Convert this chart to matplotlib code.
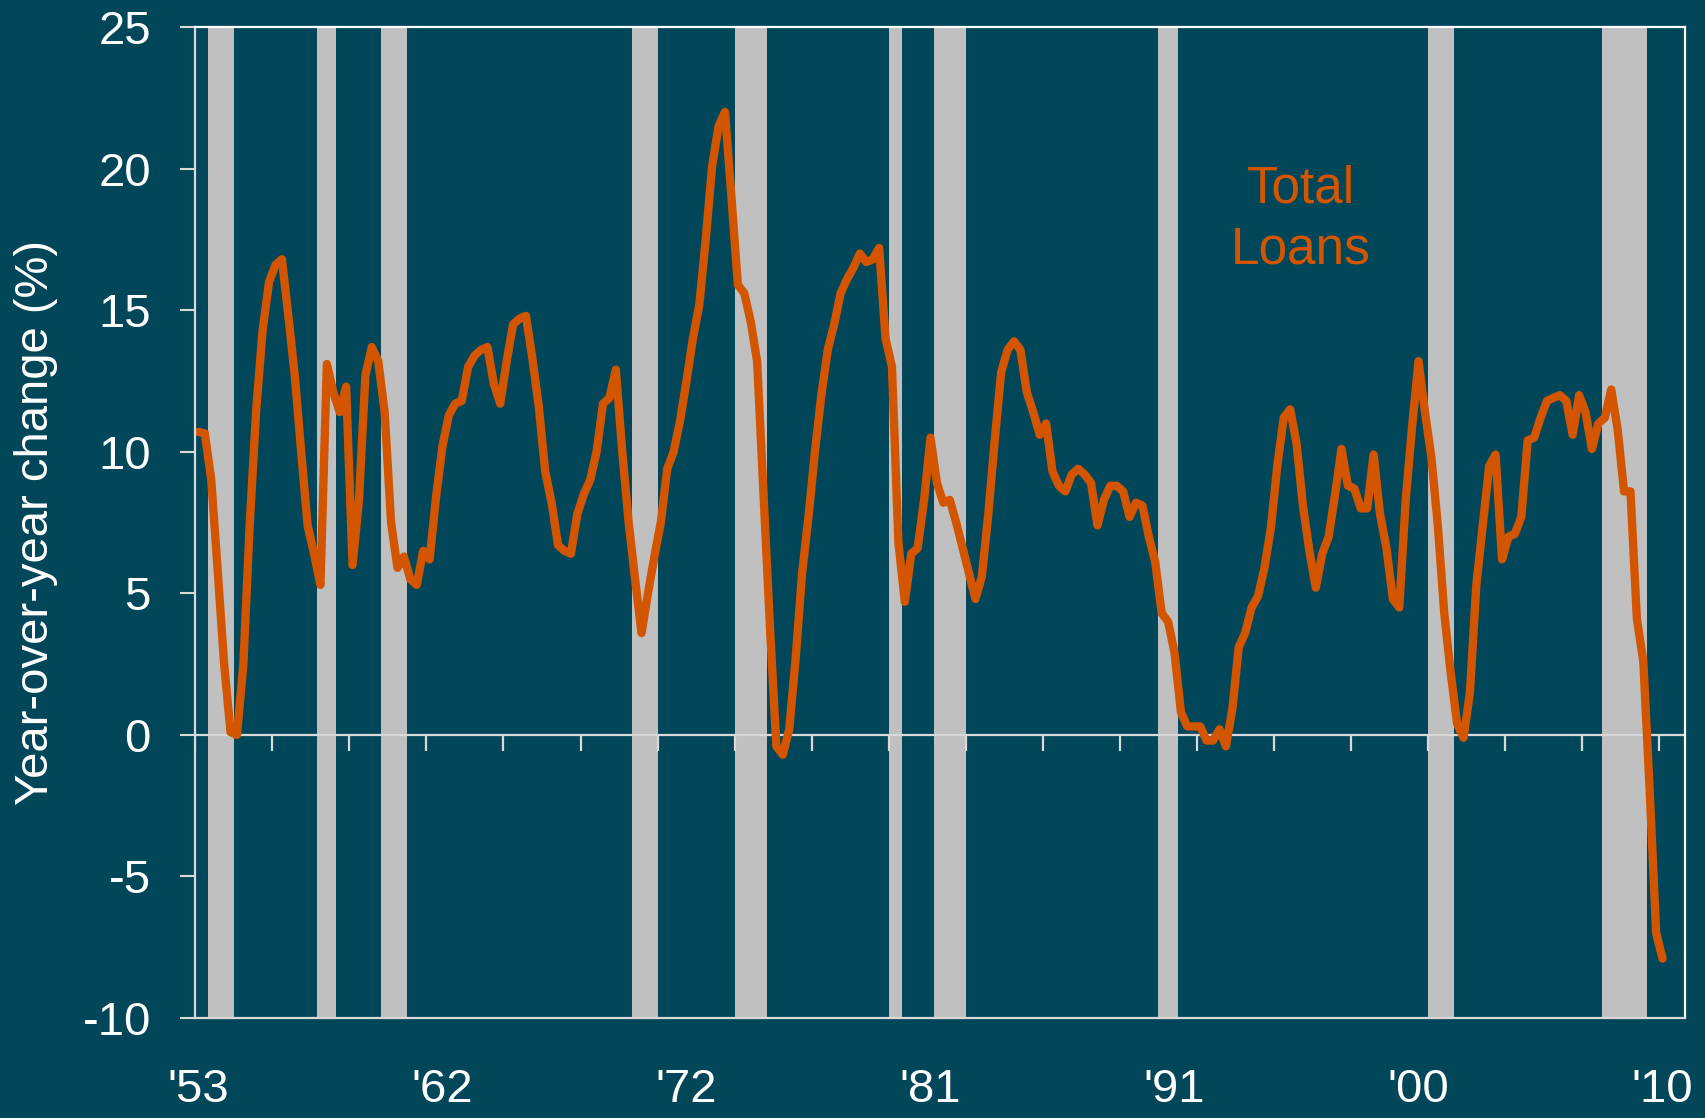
import matplotlib
matplotlib.use("Agg")
import matplotlib.pyplot as plt
import numpy as np

BG = "#02465A"
LINE_COLOR = "#D45500"
SHADE = "#C0C0C0"
AXIS_COLOR = "#D9D9D9"

START_YEAR = 1953
N_CATEGORIES = 232  # category axis runs 1953Q1 .. 2010Q4

# total loans, year-over-year % change, quarterly from 1953Q1 (one row per year)
total_loans_yoy = [
    10.7, 10.65, 9.0, 5.8,
    2.5, 0.1, 0.0, 2.5,
    7.5, 11.5, 14.3, 16.0,
    16.6, 16.8, 14.8, 12.7,
    10.0, 7.4, 6.4, 5.3,
    13.1, 12.1, 11.4, 12.3,
    6.0, 8.3, 12.7, 13.7,
    13.2, 11.4, 7.5, 5.9,
    6.3, 5.5, 5.3, 6.5,
    6.2, 8.4, 10.2, 11.3,
    11.7, 11.8, 13.0, 13.4,
    13.6, 13.7, 12.4, 11.7,
    13.2, 14.5, 14.7, 14.8,
    13.3, 11.6, 9.3, 8.2,
    6.7, 6.5, 6.4, 7.8,
    8.5, 9.0, 10.0, 11.7,
    11.9, 12.9, 10.0, 7.5,
    5.5, 3.6, 5.0, 6.3,
    7.5, 9.4, 10.0, 11.1,
    12.5, 14.0, 15.2, 17.5,
    20.1, 21.5, 22.0, 19.0,
    15.9, 15.6, 14.6, 13.2,
    8.5, 3.8, -0.4, -0.7,
    0.2, 2.7, 5.7, 7.7,
    10.0, 12.0, 13.6, 14.5,
    15.6, 16.1, 16.5, 17.0,
    16.7, 16.8, 17.2, 14.0,
    13.0, 6.8, 4.7, 6.4,
    6.6, 8.3, 10.5, 8.9,
    8.2, 8.3, 7.5, 6.6,
    5.7, 4.8, 5.6, 7.8,
    10.4, 12.8, 13.6, 13.9,
    13.6, 12.1, 11.4, 10.6,
    11.0, 9.3, 8.8, 8.6,
    9.2, 9.4, 9.2, 8.9,
    7.4, 8.3, 8.8, 8.8,
    8.6, 7.7, 8.2, 8.1,
    7.0, 6.1, 4.3, 4.0,
    2.9, 0.8, 0.3, 0.3,
    0.3, -0.2, -0.2, 0.2,
    -0.4, 0.9, 3.1, 3.6,
    4.5, 4.9, 5.9, 7.3,
    9.5, 11.2, 11.5, 10.3,
    8.1, 6.5, 5.2, 6.4,
    7.0, 8.5, 10.1, 8.8,
    8.7, 8.0, 8.0, 9.9,
    7.8, 6.6, 4.8, 4.5,
    8.3, 10.9, 13.2, 11.4,
    9.8, 7.4, 4.3, 2.2,
    0.4, -0.1, 1.5, 5.3,
    7.4, 9.5, 9.9, 6.2,
    7.0, 7.1, 7.7, 10.4,
    10.5, 11.2, 11.8, 11.9,
    12.0, 11.8, 10.6, 12.0,
    11.4, 10.1, 11.0, 11.2,
    12.2, 10.8, 8.6, 8.6,
    4.1, 2.6, -2.0, -7.0,
    -7.9,
]

# recession quarters (first, last)
recessions = [
    ("1953Q3", "1954Q2"),
    ("1957Q4", "1958Q2"),
    ("1960Q2", "1961Q1"),
    ("1970Q1", "1970Q4"),
    ("1974Q1", "1975Q1"),
    ("1980Q1", "1980Q2"),
    ("1981Q4", "1982Q4"),
    ("1990Q3", "1991Q1"),
    ("2001Q1", "2001Q4"),
    ("2007Q4", "2009Q2"),
]

year_labels = ["'53", "'62", "'72", "'81", "'91", "'00", "'10"]
LABEL_EVERY = 38  # quarters between year labels
TICK_EVERY = 12   # quarters between tick marks
y_ticks = [-10, -5, 0, 5, 10, 15, 20, 25]


def quarter_index(q):
    year, qtr = q.split("Q")
    return (int(year) - START_YEAR) * 4 + int(qtr) - 1


plt.rcParams["font.family"] = ["Liberation Sans", "DejaVu Sans"]
plt.rcParams["axes.unicode_minus"] = False

fig = plt.figure(figsize=(17.05, 11.18), dpi=100, facecolor=BG)
ax = fig.add_axes([0.1145, 0.0894, 0.8738, 0.8864], facecolor=BG)

for first, last in recessions:
    ax.axvspan(quarter_index(first), quarter_index(last) + 1, color=SHADE, lw=0, zorder=1)

# category axis crosses at zero, tick marks hang below it
ax.axhline(0, color=AXIS_COLOR, lw=1.6, zorder=2)
tick_pos = np.arange(0, N_CATEGORIES, TICK_EVERY)
ax.plot(tick_pos, np.zeros(len(tick_pos)), ls="none", marker=3, markersize=11.5,
        mew=1.6, color=AXIS_COLOR, zorder=2)

x = np.arange(len(total_loans_yoy)) + 0.5
ax.plot(x, total_loans_yoy, color=LINE_COLOR, lw=6, solid_joinstyle="round",
        solid_capstyle="round", zorder=3)

ax.set_xlim(0, N_CATEGORIES)
ax.set_ylim(-10, 25)
ax.set_yticks(y_ticks)
ax.tick_params(axis="y", direction="out", length=11, width=1.5, color=AXIS_COLOR,
               labelcolor="white", labelsize=34, pad=21)
label_pos = np.arange(len(year_labels)) * LABEL_EVERY + 0.5
ax.set_xticks(label_pos, year_labels)
ax.tick_params(axis="x", length=0, labelcolor="white", labelsize=34, pad=36)

for name, spine in ax.spines.items():
    spine.set_linewidth(1.6)
    spine.set_color("white" if name in ("top", "right") else AXIS_COLOR)
    spine.set_zorder(4)

fig.text(36 / 1705, 0.533, "Year-over-year change (%)", rotation=90, color="white",
         fontsize=34, ha="center", va="center")

ax.text(0.742, 0.806, "Total\nLoans", transform=ax.transAxes, color=LINE_COLOR,
        fontsize=37, ha="center", va="center", linespacing=1.3, zorder=5)

fig.savefig("out.png", dpi=100, facecolor=BG)
